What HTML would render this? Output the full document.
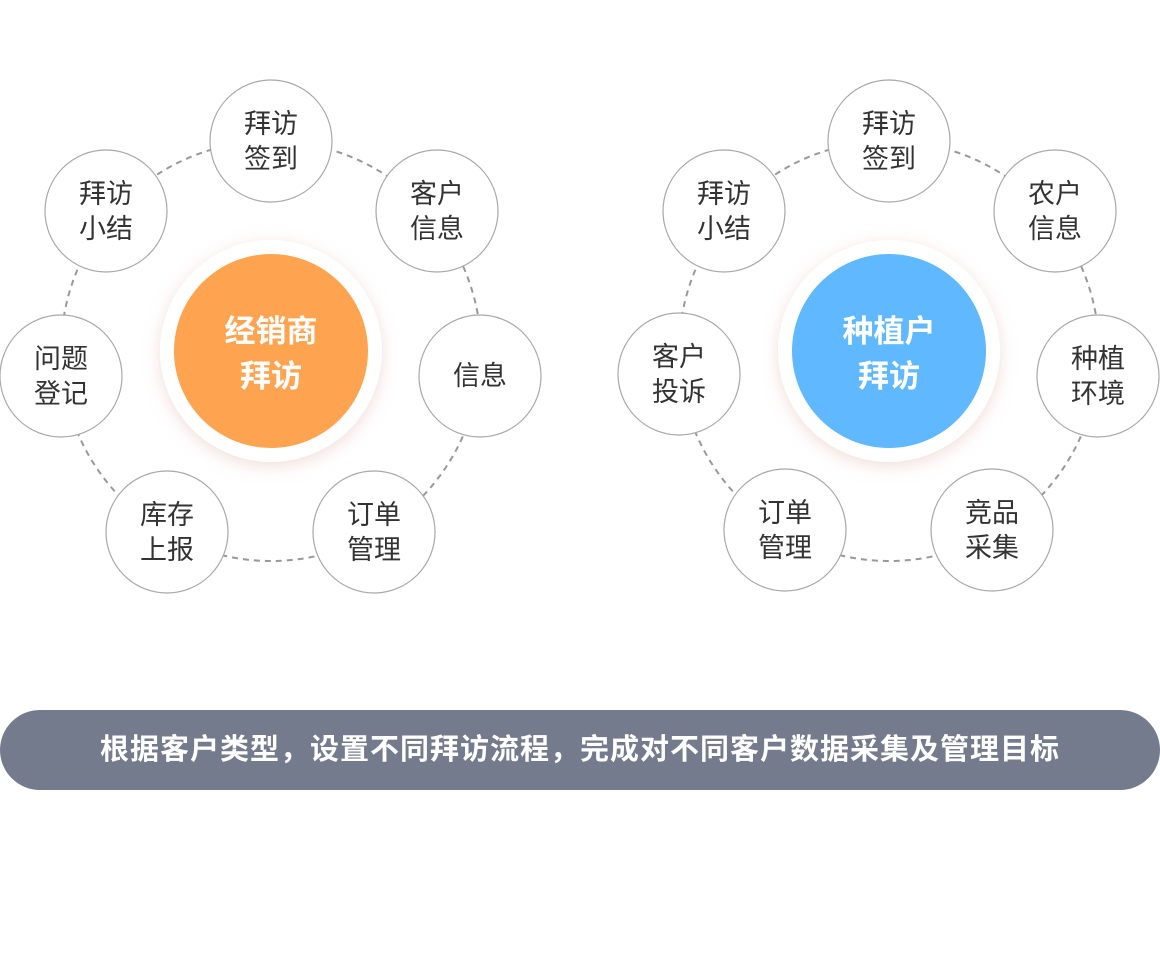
<!DOCTYPE html>
<html><head><meta charset="utf-8"><style>
html,body{margin:0;padding:0;background:#fff;width:1160px;height:960px;overflow:hidden}
svg text{font-family:"Liberation Sans","Noto Sans CJK SC",sans-serif}
.bar{position:absolute;left:0;top:710px;width:1160px;height:80px;border-radius:40px;background:#737b8c;color:#fff;font:bold 29px "Liberation Sans","Noto Sans CJK SC",sans-serif;text-align:center;line-height:80px;letter-spacing:1px}
</style></head><body>
<svg width="1160" height="960" style="position:absolute;left:0;top:0">
<defs>
<filter id="sh" x="-30%" y="-30%" width="160%" height="160%"><feDropShadow dx="0" dy="4" stdDeviation="8" flood-color="#e8c8c0" flood-opacity="0.6"/></filter>
</defs>
<g fill="none" stroke="#999" stroke-width="2" stroke-dasharray="6 5">
<circle cx="271" cy="351" r="210"/>
<circle cx="889" cy="351" r="210"/>
</g>
<circle cx="271" cy="351" r="111" fill="#fff" filter="url(#sh)"/>
<circle cx="271" cy="351" r="97" fill="#fea450"/>
<circle cx="889" cy="351" r="111" fill="#fff" filter="url(#sh)"/>
<circle cx="889" cy="351" r="97" fill="#60b8fe"/>
<g fill="#fff" font-size="31" font-weight="bold" text-anchor="middle">
<text x="271" y="342">经销商</text><text x="271" y="387">拜访</text>
<text x="889" y="342">种植户</text><text x="889" y="387">拜访</text>
</g>
<g fill="#fff" stroke="#a8a8a8" stroke-width="1.2">
<circle cx="271" cy="141" r="61"/><circle cx="437" cy="211" r="61"/><circle cx="480" cy="376" r="61"/><circle cx="374" cy="532" r="61"/><circle cx="167" cy="532" r="61"/><circle cx="61" cy="376" r="61"/><circle cx="106" cy="211" r="61"/>
<circle cx="889" cy="141" r="61"/><circle cx="1055" cy="211" r="61"/><circle cx="1098" cy="376" r="61"/><circle cx="992" cy="530" r="61"/><circle cx="785" cy="530" r="61"/><circle cx="679" cy="374" r="61"/><circle cx="724" cy="211" r="61"/>
</g>
<g fill="#333" font-size="27" text-anchor="middle">
<text x="271" y="133">拜访</text><text x="271" y="168">签到</text>
<text x="437" y="203">客户</text><text x="437" y="238">信息</text>
<text x="480" y="385">信息</text>
<text x="374" y="524">订单</text><text x="374" y="559">管理</text>
<text x="167" y="524">库存</text><text x="167" y="559">上报</text>
<text x="61" y="368">问题</text><text x="61" y="403">登记</text>
<text x="106" y="203">拜访</text><text x="106" y="238">小结</text>
<text x="889" y="133">拜访</text><text x="889" y="168">签到</text>
<text x="1055" y="203">农户</text><text x="1055" y="238">信息</text>
<text x="1098" y="368">种植</text><text x="1098" y="403">环境</text>
<text x="992" y="522">竞品</text><text x="992" y="557">采集</text>
<text x="785" y="522">订单</text><text x="785" y="557">管理</text>
<text x="679" y="366">客户</text><text x="679" y="401">投诉</text>
<text x="724" y="203">拜访</text><text x="724" y="238">小结</text>
</g>
</svg>
<div class="bar">根据客户类型，设置不同拜访流程，完成对不同客户数据采集及管理目标</div>
</body></html>
